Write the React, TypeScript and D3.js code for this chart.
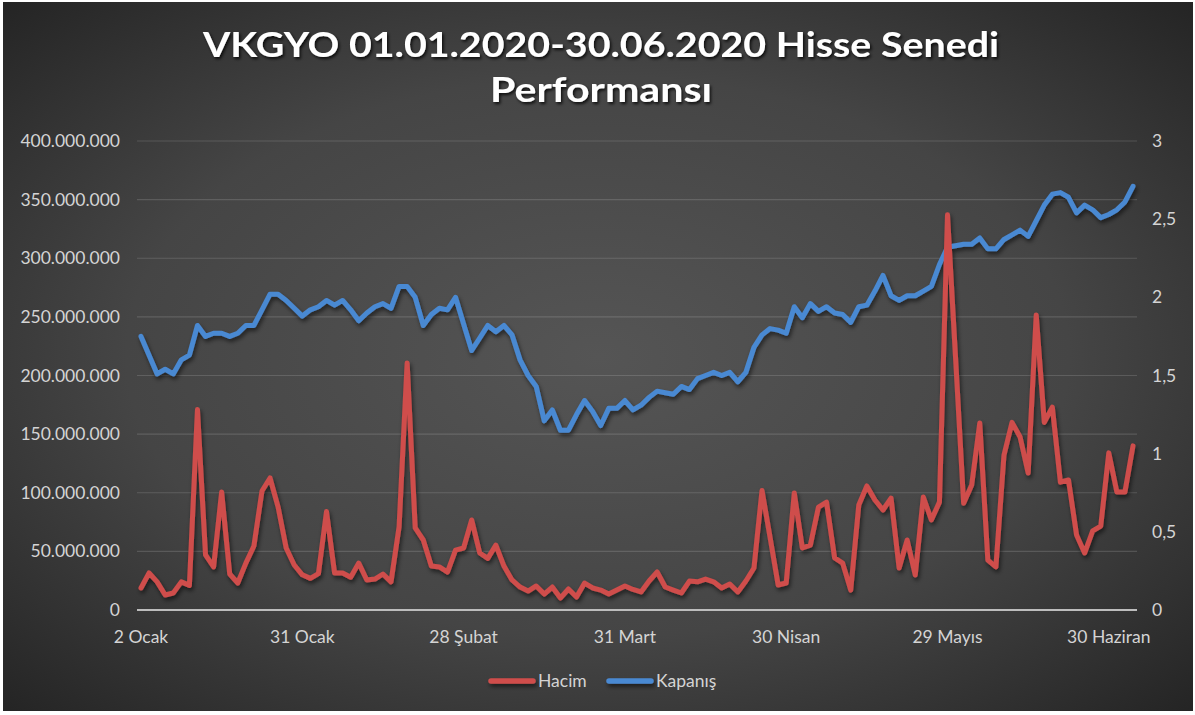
import React from "react";
import * as d3 from "d3";

// ---- Data ----
// Trading-day index 0..123 (2 Ocak .. 30 Haziran 2020)
// Hacim in millions TL
const hacimM: number[] = [
  18.8, 31.6, 24, 12.8, 14.5, 24, 21, 171, 47, 36.7,
  100.6, 30.7, 23, 40, 54.6, 101.5, 112.6, 87.8, 52.9, 38.4,
  30, 27, 31, 84, 31.6, 31.6, 28, 40, 25.6, 26.4,
  30.7, 24, 70.8, 210.7, 70, 59.7, 37.5, 36.7, 32.4, 51,
  52.9, 76.8, 48.6, 44, 55.4, 37.5, 25.6, 19.6, 16.2, 20.5,
  13.6, 19.6, 10.2, 17.9, 11.1, 23, 18.8, 17, 13.6, 17,
  20.5, 17.5, 15.4, 24.7, 32.4, 19.6, 17, 14.5, 24.7, 24,
  26.4, 24, 18.8, 22.2, 15.4, 24.7, 35.8, 102, 62, 21.3,
  23, 99.8, 52.9, 55.4, 87.8, 92, 44.4, 40, 17, 89.6,
  105.8, 93.8, 85.3, 95.5, 35.8, 59.7, 29.9, 96.4, 76.8, 92,
  337, 215, 91, 106.6, 159.5, 42.6, 36.7, 132, 160, 147.6,
  116.8, 251.6, 160, 173, 109, 110.9, 64, 48.6, 67.4, 71.6,
  134, 100.6, 100.6, 140,
];

// Kapanış (closing price)
const kapanis: number[] = [
  1.75, 1.63, 1.51, 1.54, 1.51, 1.6, 1.63, 1.82, 1.75, 1.77,
  1.77, 1.75, 1.77, 1.82, 1.82, 1.92, 2.02, 2.02, 1.98, 1.93,
  1.88, 1.92, 1.94, 1.98, 1.95, 1.98, 1.92, 1.85, 1.9, 1.94,
  1.96, 1.93, 2.07, 2.07, 2.0, 1.82, 1.89, 1.93, 1.92, 2.0,
  1.83, 1.66, 1.74, 1.82, 1.78, 1.82, 1.76, 1.6, 1.5, 1.43,
  1.21, 1.28, 1.15, 1.15, 1.25, 1.34, 1.27, 1.18, 1.29, 1.29,
  1.34, 1.28, 1.31, 1.36, 1.4, 1.39, 1.38, 1.43, 1.41, 1.48,
  1.5, 1.52, 1.5, 1.52, 1.46, 1.52, 1.68, 1.76, 1.8, 1.79,
  1.77, 1.94, 1.87, 1.96, 1.91, 1.94, 1.9, 1.89, 1.84, 1.94,
  1.95, 2.04, 2.14, 2.01, 1.98, 2.01, 2.01, 2.04, 2.07, 2.21,
  2.32, 2.33, 2.34, 2.34, 2.38, 2.31, 2.31, 2.37, 2.4, 2.43,
  2.39, 2.49, 2.59, 2.66, 2.67, 2.64, 2.54, 2.59, 2.56, 2.51,
  2.53, 2.56, 2.61, 2.71,
];

const xTickIndex: number[] = [0, 20, 40, 60, 80, 100, 120];
const xTickLabels: string[] = ["2 Ocak", "31 Ocak", "28 Şubat", "31 Mart", "30 Nisan", "29 Mayıs", "30 Haziran"];
const leftTicksM: number[] = [0, 50, 100, 150, 200, 250, 300, 350, 400];
const rightTicks: number[] = [0, 0.5, 1, 1.5, 2, 2.5, 3];
const seriesNames: string[] = ["Hacim", "Kapanış"];
const titleLines: string[] = ["VKGYO 01.01.2020-30.06.2020 Hisse Senedi", "Performansı"];

const W = 1195;
const H = 715;
const RED = "#cf4d4b";
const BLUE = "#4a89d2";
const FONT = "Lato, 'Open Sans', sans-serif";
const LABEL = "#d4d4d4";

const trLocale = d3.formatLocale({ decimal: ",", thousands: ".", grouping: [3], currency: ["", " TL"] });
const fmtLeft = trLocale.format(",");
const fmtRight = trLocale.format(".1~f");

export default function App() {
  const idx = d3.range(hacimM.length);
  const x = d3.scaleLinear().domain([0, idx.length - 1]).range([141, 1133]);
  const yL = d3.scaleLinear().domain([0, 400]).range([610, 141]);
  const yR = d3.scaleLinear().domain([0, 3]).range([610, 141]);

  const redPath = d3.line<number>().x((i) => x(i)).y((i) => yL(hacimM[i]))(idx) || "";
  const bluePath = d3.line<number>().x((i) => x(i)).y((i) => yR(kapanis[i]))(idx) || "";

  return (
    <>
      <style>{`body{margin:0;background:#fff}`}</style>
      <svg width={W} height={H} style={{ position: "absolute", left: 0, top: 0, display: "block" }}>
        <defs>
          <radialGradient id="bg" cx="50%" cy="50%" r="72%">
            <stop offset="0%" stopColor="#555555" />
            <stop offset="55%" stopColor="#454545" />
            <stop offset="100%" stopColor="#232323" />
          </radialGradient>
          <filter id="shadow" filterUnits="userSpaceOnUse" x={0} y={0} width={W} height={H}>
            <feDropShadow dx="1.5" dy="3" stdDeviation="2" floodColor="#000" floodOpacity="0.55" />
          </filter>
          <filter id="tshadow" filterUnits="userSpaceOnUse" x={0} y={0} width={W} height={140}>
            <feDropShadow dx="1.5" dy="2" stdDeviation="1.5" floodColor="#000" floodOpacity="0.8" />
          </filter>
        </defs>
        <rect x={3} y={2} width={W - 5} height={709} fill="url(#bg)" />

        {/* Title */}
        <g filter="url(#tshadow)" fill="#ffffff" fontFamily={FONT} fontWeight="bold">
          <text x={601} y={57} textAnchor="middle" fontSize={34} textLength={796} lengthAdjust="spacingAndGlyphs">
            {titleLines[0]}
          </text>
          <text x={601} y={102} textAnchor="middle" fontSize={34} textLength={222} lengthAdjust="spacingAndGlyphs">
            {titleLines[1]}
          </text>
        </g>

        {/* Gridlines */}
        {leftTicksM.slice(1).map((t) => (
          <line key={"g" + t} x1={137} x2={1137} y1={yL(t)} y2={yL(t)} stroke="#ffffff" strokeOpacity={0.14} strokeWidth={1.2} />
        ))}
        {/* X axis line */}
        <line x1={137} x2={1137} y1={610} y2={610} stroke="#bdbdbd" strokeWidth={2.2} />

        {/* Left axis labels */}
        {leftTicksM.map((t) => (
          <text key={"l" + t} x={120} y={yL(t) + 6} textAnchor="end" fontFamily={FONT} fontSize={17.5} fill={LABEL}>
            {fmtLeft(t * 1e6)}
          </text>
        ))}
        {/* Right axis labels */}
        {rightTicks.map((t) => (
          <text key={"r" + t} x={1152} y={yR(t) + 6} textAnchor="start" fontFamily={FONT} fontSize={17.5} fill={LABEL}>
            {fmtRight(t)}
          </text>
        ))}
        {/* X labels */}
        {xTickIndex.map((i, k) => (
          <text key={"x" + i} x={x(i)} y={643} textAnchor="middle" fontFamily={FONT} fontSize={17.5} fill={LABEL}>
            {xTickLabels[k]}
          </text>
        ))}

        {/* Series */}
        <g filter="url(#shadow)">
          <path d={bluePath} fill="none" stroke={BLUE} strokeWidth={5} strokeLinejoin="round" strokeLinecap="round" />
          <path d={redPath} fill="none" stroke={RED} strokeWidth={5} strokeLinejoin="round" strokeLinecap="round" />
        </g>

        {/* Legend */}
        <g fontFamily={FONT} fontSize={17.5} fill={LABEL}>
          <g filter="url(#shadow)">
            <line x1={491} x2={533} y1={681} y2={681} stroke={RED} strokeWidth={5.5} strokeLinecap="round" />
            <line x1={609} x2={651} y1={681} y2={681} stroke={BLUE} strokeWidth={5.5} strokeLinecap="round" />
          </g>
          <text x={538} y={687}>{seriesNames[0]}</text>
          <text x={656} y={687}>{seriesNames[1]}</text>
        </g>
      </svg>
    </>
  );
}
